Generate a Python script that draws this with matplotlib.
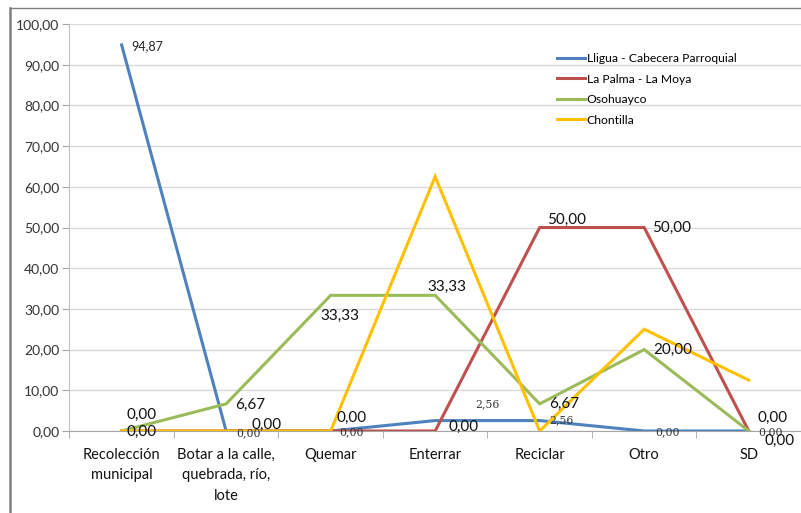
import matplotlib.pyplot as plt
from matplotlib.lines import Line2D
import numpy as np

categorias = ['Recolección\nmunicipal', 'Botar a la calle,\nquebrada, río,\nlote', 'Quemar',
              'Enterrar', 'Reciclar', 'Otro', 'SD']

lligua = [94.87, 0.00, 0.00, 2.56, 2.56, 0.00, 0.00]
la_palma = [0.00, 0.00, 0.00, 0.00, 50.00, 50.00, 0.00]
osohuayco = [0.00, 6.67, 33.33, 33.33, 6.67, 20.00, 0.00]
chontilla = [0.00, 0.00, 0.00, 62.50, 0.00, 25.00, 12.50]

series = [
    ('Lligua - Cabecera Parroquial', lligua, '#4F81BD'),
    ('La Palma - La Moya', la_palma, '#C0504D'),
    ('Osohuayco', osohuayco, '#9BBB59'),
    ('Chontilla', chontilla, '#FFC000'),
]

# label offsets in pixels (dx right, dy down) for each point
off_lligua = [(26, 1), (22, 2), (21, 1), (52, -16), (22, 0), (23, 1), (22, 1)]
off_palma = [(20, 1), (40, -6), (21, -13), (28, -4), (27, -8), (27, 0), (31, 10)]
off_osoh = [(20, -16), (24, 1), (9, 21), (12, -8), (24, 0), (29, 0), (24, -13)]

plt.rcParams['font.family'] = ['Lato', 'DejaVu Sans']

fig = plt.figure(figsize=(8.01, 5.13), dpi=100)
ax = fig.add_axes([69 / 801, (513 - 431) / 513, 732 / 801, 407 / 513])

x = np.arange(len(categorias))
for nombre, vals, color in series:
    ax.plot(x, vals, color=color, lw=2.2, label=nombre, solid_joinstyle='miter', zorder=3)


def fmt(v):
    return f'{v:.2f}'.replace('.', ',')


def etiquetas(vals, offs, size, family, color, idx=None):
    for i, (v, o) in enumerate(zip(vals, offs)):
        if idx is not None and i not in idx:
            continue
        ax.annotate(fmt(v), (x[i], v), xytext=(o[0] * 0.72, -o[1] * 0.72),
                    textcoords='offset points', ha='center', va='center',
                    fontsize=size, family=family, color=color, zorder=4)


etiquetas(lligua, off_lligua, 9, ['Lato'], '#262626', idx=[0])
etiquetas(lligua, off_lligua, 7.8, ['DejaVu Serif'], '#333333', idx=range(1, 7))
etiquetas(la_palma, off_palma, 11, ['Lato'], '#111111')
etiquetas(osohuayco, off_osoh, 11, ['Lato'], '#111111')

# x = 0 sits 53 px right of the axis, 105.3 px per category
ax.set_xlim(-53 / 105.3, 731 / 105.3 - 53 / 105.3)
ax.set_ylim(0, 100)
ax.set_yticks(np.arange(0, 101, 10))
ax.set_yticklabels([fmt(v) for v in np.arange(0, 101, 10)], fontsize=10, color='#333333')
ax.set_xticks(x)
ax.set_xticklabels(categorias, fontsize=10.5, color='#111111', linespacing=1.6)
ax.set_xticks(np.arange(-0.5, 6.6, 1), minor=True)
ax.tick_params(axis='x', which='major', length=0, pad=12)
ax.tick_params(axis='x', which='minor', length=5, color='#A6A6A6')
ax.tick_params(axis='y', length=5, color='#A6A6A6', pad=2)

ax.grid(axis='y', color='#D9D9D9', lw=1)
ax.set_axisbelow(True)
for s in ['top', 'right']:
    ax.spines[s].set_visible(False)
ax.spines['left'].set_color('#BFBFBF')
ax.spines['bottom'].set_color('#A6A6A6')

leg = ax.legend(loc='upper left', bbox_to_anchor=(0.66, 0.94), frameon=False,
                fontsize=8.7, handlelength=2.3, handletextpad=0.15, labelspacing=0.78,
                borderaxespad=0)

# outer chart frame
fig.add_artist(Line2D([10 / 801, 10 / 801], [0, 1 - 8 / 513], color='#7F7F7F', lw=1.8))
fig.add_artist(Line2D([10 / 801, 1], [1 - 8 / 513, 1 - 8 / 513], color='#7F7F7F', lw=1))

fig.savefig('out.png', dpi=100)
